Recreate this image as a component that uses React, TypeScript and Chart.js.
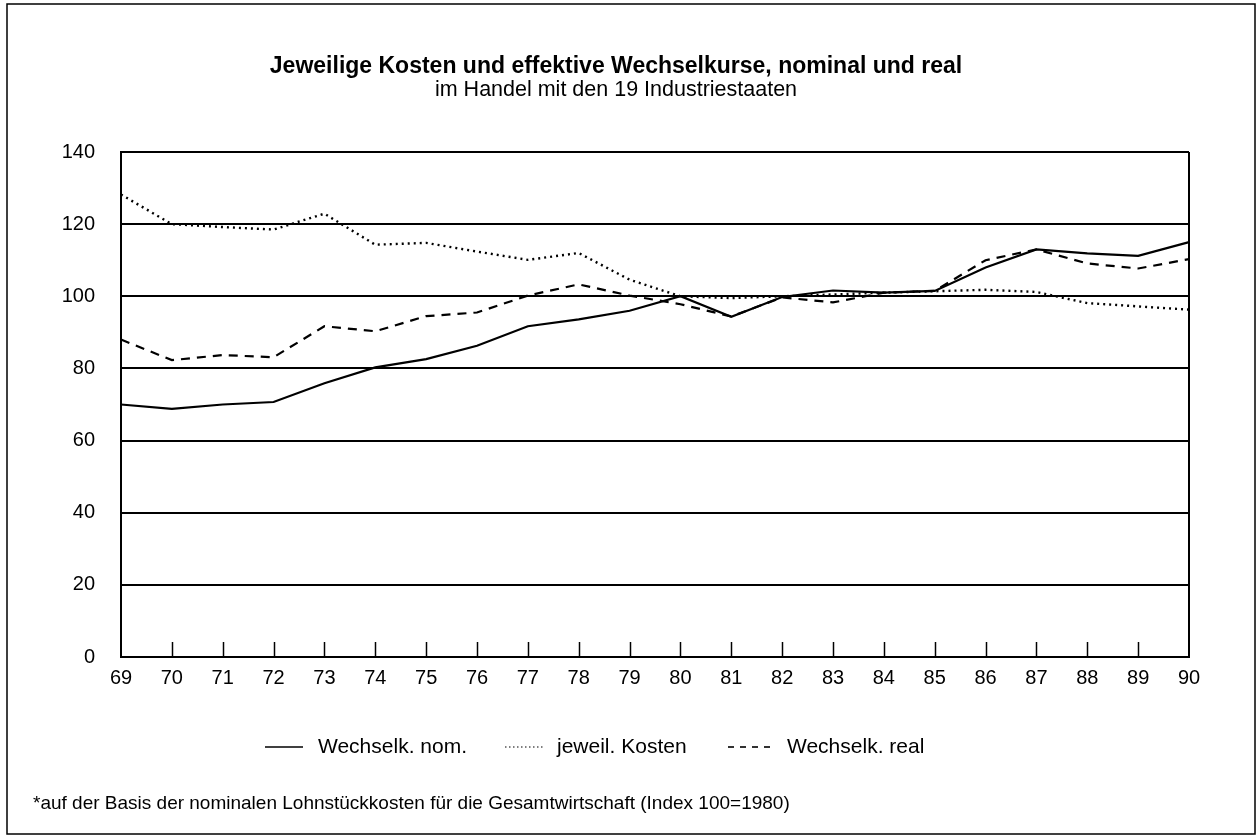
import React, { useEffect, useRef } from "react";
import { Chart, registerables } from "chart.js";

Chart.register(...registerables);

const years = ["69","70","71","72","73","74","75","76","77","78","79","80","81","82","83","84","85","86","87","88","89","90"];
const nominal = [70, 68.8, 70, 70.7, 75.9, 80.3, 82.6, 86.3, 91.7, 93.6, 96, 100, 94.3, 99.8, 101.6, 101, 101.5, 108, 113, 111.9, 111.2, 115];
const kosten = [128.2, 120, 119.2, 118.5, 122.9, 114.3, 114.8, 112.4, 110.1, 112, 104.6, 100, 99.5, 100, 100.5, 101, 101.4, 101.8, 101.2, 98.1, 97.2, 96.3];
const real = [88, 82.3, 83.7, 83.1, 91.7, 90.3, 94.5, 95.5, 100.2, 103.3, 100.2, 97.8, 94.4, 99.7, 98.3, 101, 101.5, 110, 113, 109.1, 107.7, 110.3];
const yTicks = [0, 20, 40, 60, 80, 100, 120, 140];

const titleText = "Jeweilige Kosten und effektive Wechselkurse, nominal und real";
const subtitleText = "im Handel mit den 19 Industriestaaten";
const legendLabels = ["Wechselk. nom.", "jeweil. Kosten", "Wechselk. real"];
const footnoteText = "*auf der Basis der nominalen Lohnstückkosten für die Gesamtwirtschaft (Index 100=1980)";

const FONT = "'Liberation Sans', Arial, Helvetica, sans-serif";

const decorPlugin = {
  id: "decor",
  afterDraw(chart: any) {
    const ctx = chart.ctx;
    const area = chart.chartArea;
    const xs = chart.scales.x;
    ctx.save();
    // outer frame
    ctx.strokeStyle = "#000";
    ctx.lineWidth = 1.5;
    ctx.strokeRect(7, 4, 1248, 830);
    // right border of plot
    ctx.lineWidth = 2;
    ctx.beginPath();
    ctx.moveTo(area.right, area.top);
    ctx.lineTo(area.right, area.bottom);
    ctx.stroke();
    // inner tick marks on x axis
    ctx.lineWidth = 1.5;
    for (let i = 1; i < years.length - 1; i++) {
      const px = Math.round(xs.getPixelForValue(i)) + 0.5;
      ctx.beginPath();
      ctx.moveTo(px, area.bottom);
      ctx.lineTo(px, area.bottom - 15);
      ctx.stroke();
    }
    // titles
    ctx.fillStyle = "#000";
    ctx.textAlign = "center";
    ctx.textBaseline = "alphabetic";
    ctx.font = `bold 23px ${FONT}`;
    ctx.fillText(titleText, 616, 73);
    ctx.font = `21.5px ${FONT}`;
    ctx.fillText(subtitleText, 616, 96);
    // legend
    const ly = 747;
    const items = [
      { x1: 265, x2: 303, tx: 318, dash: [] as number[], w: 1.6 },
      { x1: 505, x2: 545, tx: 557, dash: [1.5, 2.5], w: 1.2 },
      { x1: 728, x2: 775, tx: 787, dash: [6, 6], w: 1.6 },
    ];
    ctx.textAlign = "left";
    ctx.textBaseline = "middle";
    ctx.font = `21px ${FONT}`;
    items.forEach((it, i) => {
      ctx.setLineDash(it.dash);
      ctx.lineWidth = it.w;
      ctx.beginPath();
      ctx.moveTo(it.x1, ly);
      ctx.lineTo(it.x2, ly);
      ctx.stroke();
      ctx.setLineDash([]);
      ctx.fillText(legendLabels[i], it.tx, ly);
    });
    // footnote
    ctx.font = `19px ${FONT}`;
    ctx.textBaseline = "alphabetic";
    ctx.fillText(footnoteText, 33, 809);
    ctx.restore();
  },
};

export default function App() {
  const ref = useRef<HTMLCanvasElement | null>(null);
  useEffect(() => {
    document.body.style.margin = "0";
    const canvas = ref.current;
    if (!canvas) return;
    const chart = new Chart(canvas, {
      type: "line",
      data: {
        labels: years,
        datasets: [
          { label: legendLabels[0], data: nominal, borderColor: "#000", borderWidth: 2.2, pointRadius: 0, tension: 0, fill: false },
          { label: legendLabels[1], data: kosten, borderColor: "#000", borderWidth: 2.4, borderDash: [2, 4], pointRadius: 0, tension: 0, fill: false },
          { label: legendLabels[2], data: real, borderColor: "#000", borderWidth: 2.2, borderDash: [9, 7], pointRadius: 0, tension: 0, fill: false },
        ],
      },
      options: {
        responsive: false,
        animation: false,
        layout: { padding: { top: 152, right: 68, left: 0, bottom: 0 } },
        plugins: { legend: { display: false }, title: { display: false }, tooltip: { enabled: false } },
        scales: {
          x: {
            type: "category",
            offset: false,
            grid: { display: false, drawTicks: false },
            border: { display: true, color: "#000", width: 2 },
            ticks: { color: "#000", font: { family: FONT, size: 20 }, padding: 9, maxRotation: 0, autoSkip: false },
            afterFit: (s: any) => { s.height = 179; },
          },
          y: {
            min: 0,
            max: 140,
            afterBuildTicks: (s: any) => { s.ticks = yTicks.map((v) => ({ value: v })); },
            grid: { color: "#000", lineWidth: 2, drawTicks: false },
            border: { display: true, color: "#000", width: 2 },
            ticks: { color: "#000", font: { family: FONT, size: 20 }, padding: 26 },
            afterFit: (s: any) => { s.width = 121; },
          },
        },
      },
      plugins: [decorPlugin],
    });
    return () => chart.destroy();
  }, []);
  return (
    <div style={{ width: 1257, height: 836, background: "#fff" }}>
      <canvas ref={ref} width={1257} height={836} style={{ display: "block" }} />
    </div>
  );
}
